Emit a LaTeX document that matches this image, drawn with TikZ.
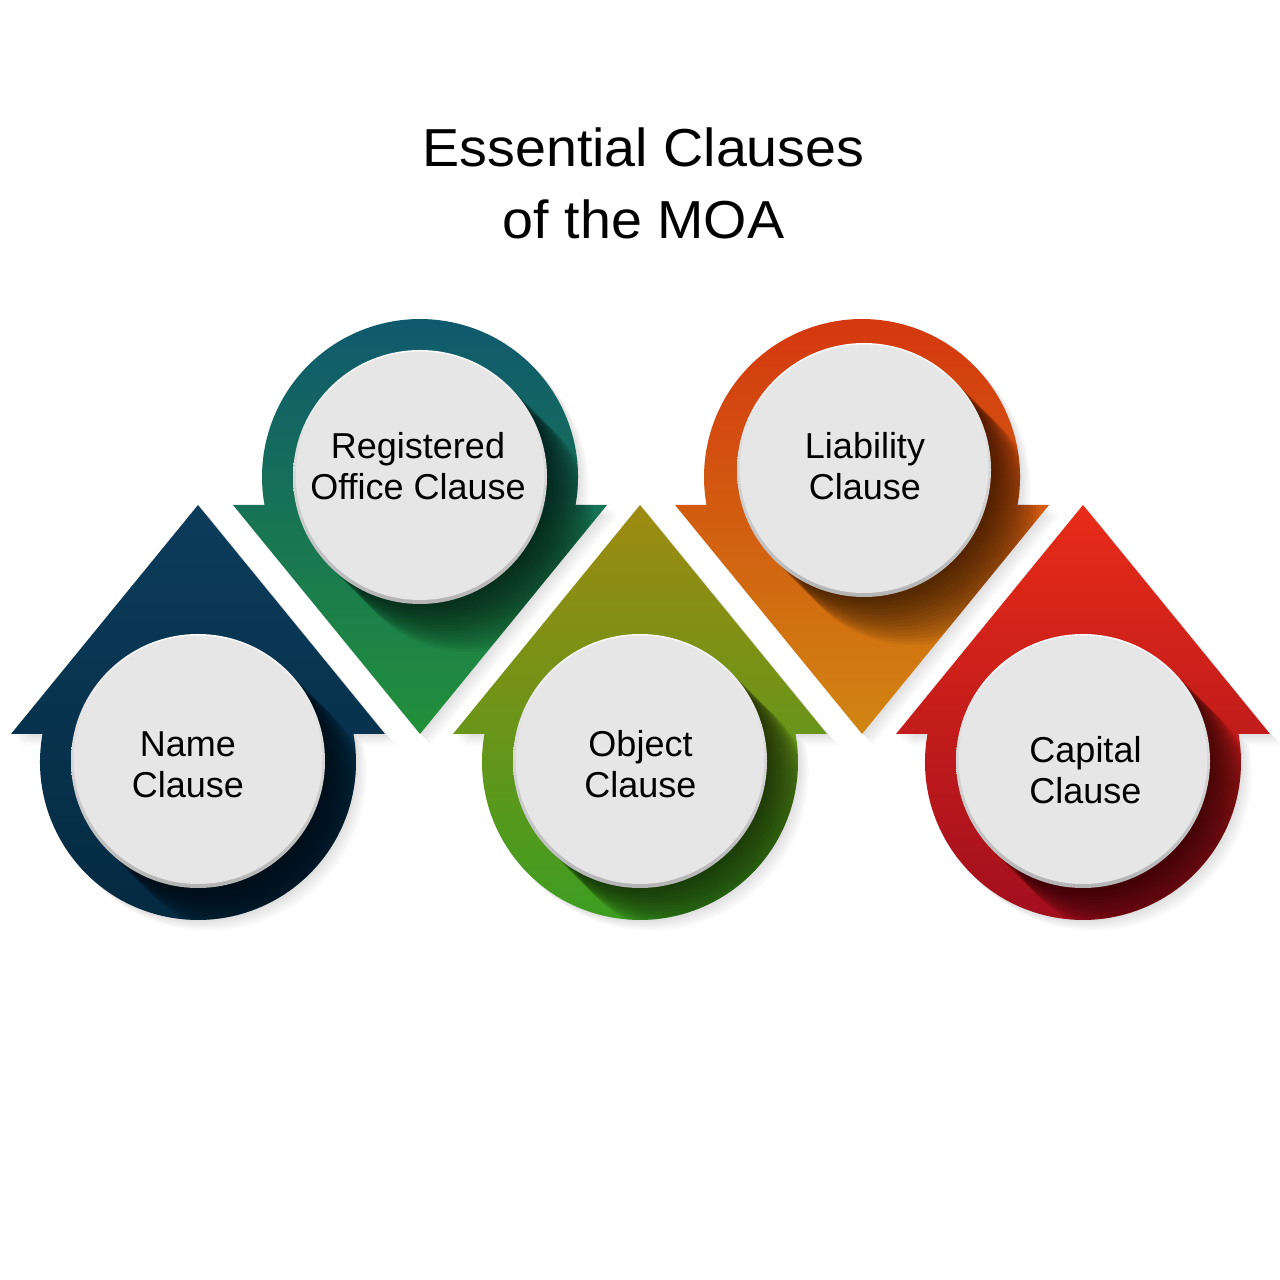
\documentclass[tikz,border=0pt]{standalone}
\usepackage{fontspec}
\setmainfont{Liberation Sans}
\newfontfamily\titlefont{Liberation Sans}[FakeStretch=1.04]
\definecolor{nameTop}{HTML}{0B3C5A}
\definecolor{nameBot}{HTML}{052A42}
\definecolor{regTop}{HTML}{0F586F}
\definecolor{regBot}{HTML}{22903A}
\definecolor{objTop}{HTML}{9E8A10}
\definecolor{objBot}{HTML}{3B9E22}
\definecolor{liaTop}{HTML}{D4360F}
\definecolor{liaBot}{HTML}{D08612}
\definecolor{capTop}{HTML}{E82C18}
\definecolor{capBot}{HTML}{A00E1E}
\definecolor{faceGray}{HTML}{E6E6E6}
\definecolor{rimLight}{HTML}{FAFAFA}
\definecolor{rimDark}{HTML}{B4B4B4}
\tikzset{
  clausetext/.style={font=\fontsize{36}{41}\selectfont, align=center, text=black, inner sep=0pt},
  titletext/.style={font=\titlefont\fontsize{53.5}{72}\selectfont, align=center, text=black, inner sep=0pt},
}
\def\uppath{(155.5,28) -- (187,28) -- (0,257) -- (-187,28) -- (-155.5,28) arc[start angle=169.8,end angle=370.2,radius=158pt] -- cycle}
\def\downpath{(-155.5,-28) -- (-187,-28) -- (0,-257) -- (187,-28) -- (155.5,-28) arc[start angle=-10.2,end angle=190.2,radius=158pt] -- cycle}
% #1 path macro, #2 cx, #3 cy, #4 inner dx, #5 inner dy, #6 top colour, #7 bottom colour
\newcommand\clauseshape[7]{%
  \begin{scope}[shift={(#2,#3)}]
    \foreach \k in {1,...,6}{%
      \begin{scope}[shift={(\k*1.8,-\k*1.8)}]
        \fill[black,opacity=0.02] #1;
      \end{scope}}
    \shade[top color=#6,bottom color=#7] #1;
    \begin{scope}
      \clip #1;
      \foreach \k in {1,...,16}{%
        \fill[black,opacity=0.05] (#4+\k*3,#5-\k*3) circle[radius=127pt];}
    \end{scope}
    \shade[top color=rimLight,bottom color=rimDark] (#4,#5) circle[radius=127pt];
    \fill[faceGray] (#4,#5+1.2) circle[radius=124.2pt];
  \end{scope}}
\begin{document}
\begin{tikzpicture}[x=1pt,y=1pt]
  \fill[white] (0,0) rectangle (1280,1280);
  \useasboundingbox (0,0) rectangle (1280,1280);
  \node[titletext] (title) at (643.5,1096.5) {Essential Clauses\\of the MOA};
  \clauseshape{\uppath}{198}{518}{0}{1}{nameTop}{nameBot}
  \clauseshape{\downpath}{420}{803}{0}{0}{regTop}{regBot}
  \clauseshape{\uppath}{640}{518}{0}{1}{objTop}{objBot}
  \clauseshape{\downpath}{862}{803}{2}{7}{liaTop}{liaBot}
  \clauseshape{\uppath}{1083}{518}{0}{1}{capTop}{capBot}
  \node[clausetext] (name) at (188,515.5) {Name\\Clause};
  \node[clausetext] (registered) at (418,814) {Registered\\Office Clause};
  \node[clausetext] (object) at (640.5,516) {Object\\Clause};
  \node[clausetext] (liability) at (865,813.7) {Liability\\Clause};
  \node[clausetext] (capital) at (1085.5,509.7) {Capital\\Clause};
\end{tikzpicture}
\end{document}
